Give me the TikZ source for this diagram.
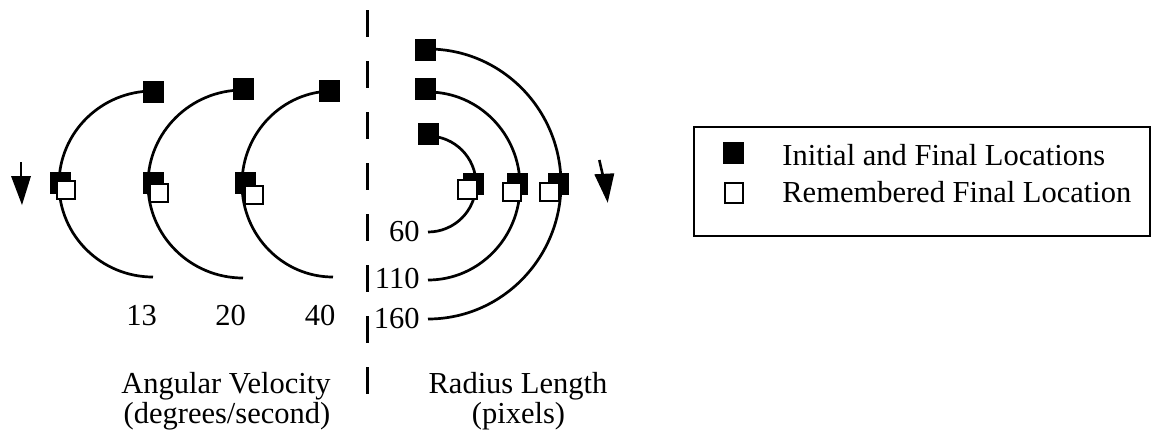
\documentclass[tikz,border=0pt]{standalone}
\usepackage{fontspec}
\setmainfont{Liberation Serif}
\begin{document}
\begin{tikzpicture}[x=0.5pt,y=0.5pt,
  arcline/.style={line width=1.35pt},
  fsq/.style={rectangle, fill=black, inner sep=0pt, minimum width=10.5pt, minimum height=11pt},
  wsq/.style={rectangle, fill=white, draw=black, line width=1pt, inner sep=0pt, minimum width=9.2pt, minimum height=9.2pt},
  lbl/.style={font=\fontsize{15.25}{15}\selectfont, inner sep=0pt},
  divider/.style={line width=1.5pt, dash pattern=on 13.5pt off 12pt},
  shaft/.style={line width=1.3pt},
  head/.style={fill=black}
]
\useasboundingbox (0,0) rectangle (1153,-430);

% divider
\coordinate (dtop) at (367,-10);
\coordinate (dbot) at (367,-394);
\draw[divider] (dtop) -- (dbot);

% ---- left: angular velocity arcs
\coordinate (l1t) at (153,-91);
\coordinate (l2t) at (243,-90);
\coordinate (l3t) at (333,-91);
\draw[arcline] (l1t) arc[start angle=90, end angle=270, x radius=94, y radius=93];
\draw[arcline] (l2t) arc[start angle=90, end angle=270, x radius=95, y radius=94];
\draw[arcline] (l3t) arc[start angle=90, end angle=270, x radius=91, y radius=93];

\node[fsq] (li1) at (153,-92) {};
\node[fsq] (li2) at (243,-89) {};
\node[fsq] (li3) at (329,-91) {};
\node[fsq] (lf1) at (60,-183) {};
\node[fsq] (lf2) at (153,-183) {};
\node[fsq] (lf3) at (245,-183) {};
\node[wsq] (lr1) at (66,-190) {};
\node[wsq] (lr2) at (159,-193) {};
\node[wsq] (lr3) at (254,-195) {};

\node[lbl, anchor=base] (v13) at (141.5,-325) {13};
\node[lbl, anchor=base] (v20) at (230.5,-325) {20};
\node[lbl, anchor=base] (v40) at (320,-325) {40};

% left arrow
\coordinate (la0) at (21,-162);
\coordinate (la1) at (21,-178);
\draw[shaft] (la0) -- (la1);
\fill[head] (11,-176) -- (31,-176) -- (22,-205) -- cycle;

% ---- right: radius length arcs
\coordinate (r1t) at (428,-136);
\coordinate (r2t) at (428,-92);
\coordinate (r3t) at (428,-49);
\draw[arcline] (r1t) arc[start angle=90, end angle=-90, x radius=48, y radius=48] coordinate (r1b);
\draw[arcline] (r2t) arc[start angle=90, end angle=-90, x radius=92, y radius=94] coordinate (r2b);
\draw[arcline] (r3t) arc[start angle=90, end angle=-90, x radius=133, y radius=135] coordinate (r3b);

\node[fsq] (ri1) at (428,-134) {};
\node[fsq] (ri2) at (425,-89) {};
\node[fsq] (ri3) at (425,-50) {};
\node[fsq] (rf1) at (473,-183.5) {};
\node[fsq] (rf2) at (517.5,-183.5) {};
\node[fsq] (rf3) at (558.5,-183.5) {};
\node[wsq] (rr1) at (467.5,-189.5) {};
\node[wsq] (rr2) at (512,-192) {};
\node[wsq] (rr3) at (549.5,-192) {};

\node[lbl, anchor=base east] (p60) at (420,-241) {60};
\node[lbl, anchor=base east] (p110) at (420,-288) {110};
\node[lbl, anchor=base east] (p160) at (420,-328) {160};

% right arrow
\coordinate (ra0) at (599.3,-160);
\coordinate (ra1) at (603,-176);
\draw[shaft] (ra0) -- (ra1);
\fill[head] (594.3,-174.3) -- (614.3,-173.3) -- (607.7,-202.7) -- cycle;

% ---- titles
\node[lbl, anchor=base] (ang1) at (226,-393) {Angular Velocity};
\node[lbl, anchor=base] (ang2) at (227,-423) {(degrees/second)};
\node[lbl, anchor=base] (rad1) at (518,-393) {Radius Length};
\node[lbl, anchor=base] (rad2) at (518.5,-423) {(pixels)};

% ---- legend
\draw[line width=1pt] (694,-127) rectangle (1150,-236);
\node[fsq] (kfill) at (733.5,-153) {};
\node[wsq, minimum height=10pt] (kopen) at (734,-192.5) {};
\node[lbl, anchor=base west] (ktext1) at (782,-165) {Initial and Final Locations};
\node[lbl, anchor=base west] (ktext2) at (782,-202) {Remembered Final Location};
\end{tikzpicture}
\end{document}
